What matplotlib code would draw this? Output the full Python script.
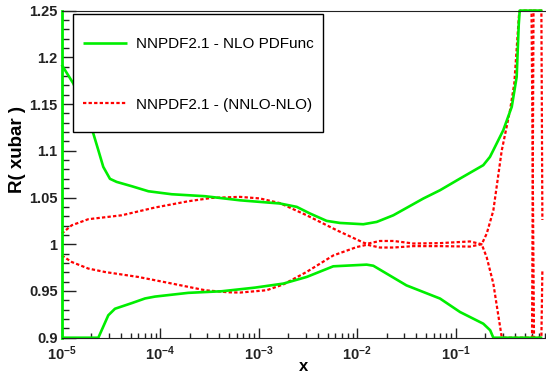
import numpy as np
import matplotlib
matplotlib.use("Agg")
import matplotlib.pyplot as plt
from matplotlib.patches import Rectangle
from matplotlib.ticker import MultipleLocator, FuncFormatter, LogLocator

plt.rcParams['font.family'] = ['Liberation Sans', 'DejaVu Sans']
plt.rcParams['mathtext.fontset'] = 'custom'
plt.rcParams['mathtext.rm'] = 'Liberation Sans:bold'
plt.rcParams['mathtext.bf'] = 'Liberation Sans:bold'
plt.rcParams['mathtext.it'] = 'Liberation Sans:bold'

# NLO PDF uncertainty band (log10 x, ratio)
pdf_hi_logx = [-5.0, -4.882, -4.78, -4.679, -4.628, -4.578, -4.51, -4.442, -4.289, -4.12,
               -3.883, -3.545, -3.188, -2.784, -2.614, -2.479, -2.31, -2.175, -1.938, -1.802,
               -1.633, -1.329, -1.159, -0.956, -0.72, -0.652, -0.618, -0.517, -0.431, -0.381,
               -0.36, -0.35, -0.12]
pdf_hi = [1.192, 1.172, 1.147, 1.1185, 1.1006, 1.0828, 1.070, 1.0667, 1.0621, 1.0567,
          1.0535, 1.0514, 1.047, 1.0436, 1.040, 1.0329, 1.025, 1.0228, 1.0214, 1.0239,
          1.031, 1.0489, 1.0578, 1.0703, 1.0846, 1.0935, 1.1006, 1.122, 1.147, 1.179,
          1.235, 1.30, 1.6]

pdf_lo_logx = [-5.0, -4.66, -4.628, -4.527, -4.459, -4.289, -4.154, -4.053, -3.715, -3.376,
               -3.038, -2.75, -2.513, -2.243, -1.904, -1.836, -1.5, -1.159, -0.956, -0.72,
               -0.65, -0.618, -0.6, -0.12]
pdf_lo = [0.86, 0.885, 0.899, 0.924, 0.931, 0.937, 0.942, 0.944, 0.948, 0.9497,
          0.9536, 0.9579, 0.965, 0.9764, 0.9782, 0.977, 0.956, 0.9419, 0.9275, 0.915,
          0.908, 0.899, 0.85, 0.6]

# NNLO-NLO difference band
nn_hi_logx = [-5.0, -4.898, -4.73, -4.39, -4.053, -3.715, -3.477, -3.19, -2.987, -2.784,
              -2.513, -2.208, -1.938, -1.9, -1.77, -1.63, -1.43, -1.16, -0.855, -0.736,
              -0.685, -0.618, -0.533, -0.449, -0.405, -0.355, -0.34, -0.23, -0.205, -0.13,
              -0.12]
nn_hi = [1.0114, 1.0203, 1.0268, 1.031, 1.0393, 1.046, 1.0496, 1.0507, 1.049, 1.044,
         1.031, 1.015, 1.0018, 1.0005, 1.0035, 1.0035, 1.0008, 1.0012, 1.003, 1.0,
         1.0114, 1.036, 1.10, 1.143, 1.172, 1.249, 1.35, 1.5, 0.7, 0.7,
         0.972]

nn_lo_logx = [-5.0, -4.898, -4.73, -4.56, -4.222, -3.883, -3.545, -3.309, -3.19, -2.919,
              -2.75, -2.513, -2.243, -2.005, -1.9, -1.77, -1.63, -1.43, -1.16, -0.855,
              -0.736, -0.685, -0.618, -0.533, -0.52, -0.225, -0.21, -0.13, -0.12]
nn_lo = [0.988, 0.981, 0.974, 0.9703, 0.965, 0.958, 0.9508, 0.9486, 0.9483, 0.9508,
         0.957, 0.9704, 0.988, 0.997, 0.9995, 0.9965, 0.9965, 0.998, 0.998, 0.9975,
         1.0, 0.986, 0.958, 0.9008, 0.88, 0.6, 1.5, 1.5, 1.026]

ylo, yhi = 0.9, 1.25
y_ticks = [0.9, 0.95, 1.0, 1.05, 1.1, 1.15, 1.2, 1.25]

fig = plt.figure(figsize=(5.46, 3.73), dpi=100)
ax = fig.add_axes([0.113, 0.0946, 0.902, 0.877])

def draw(logx, vals, **kw):
    # values outside the frame are drawn along its edge
    x = 10.0 ** np.array(logx)
    y = np.clip(np.array(vals), ylo, yhi)
    return ax.plot(x, y, clip_on=False, **kw)

red_style = dict(color='#ff0000', lw=1.6, ls=(0, (1.5, 1.0)))
green_style = dict(color='#00ee00', lw=1.9, solid_capstyle='butt')

draw(nn_hi_logx, nn_hi, **red_style)
draw(nn_lo_logx, nn_lo, **red_style)
draw(pdf_hi_logx, pdf_hi, **green_style)
draw(pdf_lo_logx, pdf_lo, **green_style)

ax.set_xscale('log')
ax.set_xlim(1e-5, 1)
ax.set_ylim(ylo, yhi)

def xfmt(v, p):
    e = round(np.log10(v))
    return r"$\mathbf{10^{%d}}$" % e if e < 0 else ""

ax.set_yticks(y_ticks)
ax.yaxis.set_minor_locator(MultipleLocator(0.01))
ax.yaxis.set_major_formatter(FuncFormatter(lambda v, p: f"{v:g}"))
ax.xaxis.set_major_locator(LogLocator(base=10, numticks=10))
ax.xaxis.set_minor_locator(LogLocator(base=10, subs=np.arange(2, 10), numticks=10))
ax.xaxis.set_major_formatter(FuncFormatter(xfmt))

ax.tick_params(axis='both', which='both', direction='in', colors='#222222', width=1)
ax.tick_params(axis='y', which='major', length=10, pad=3, labelsize=10.5)
ax.tick_params(axis='y', which='minor', length=5)
ax.tick_params(axis='x', which='major', length=7, pad=5, labelsize=10.5)
ax.tick_params(axis='x', which='minor', length=3.3)
for lab in ax.get_yticklabels():
    lab.set_fontweight('bold')

ax.spines['left'].set_color('#00ee00')
ax.spines['left'].set_linewidth(2)
for s in ['top', 'bottom', 'right']:
    ax.spines[s].set_color('#222222')

ax.set_xlabel('x', fontsize=12, fontweight='bold')
ax.xaxis.set_label_coords(0.49, -0.065)
ax.set_ylabel('R( xubar )', fontsize=13.5, fontweight='bold')
ax.yaxis.set_label_coords(-0.072, 0.574)

# legend box
fig.patches.append(Rectangle((73 / 546, 1 - 132 / 373), 250 / 546, 118 / 373,
                             transform=fig.transFigure, facecolor='white',
                             edgecolor='black', lw=1, zorder=5))
h1, = ax.plot([], [], **green_style, label='NNPDF2.1 - NLO PDFunc')
h2, = ax.plot([], [], **red_style, label='NNPDF2.1 - (NNLO-NLO)')
leg = fig.legend(handles=[h1, h2], loc='upper left', bbox_to_anchor=(83 / 546, 1 - 37 / 373),
                 frameon=False, borderpad=0, borderaxespad=0, fontsize=11,
                 handlelength=2.9, handletextpad=0.6, labelspacing=3.05)
leg.set_zorder(6)

fig.savefig('out.png', dpi=100)
